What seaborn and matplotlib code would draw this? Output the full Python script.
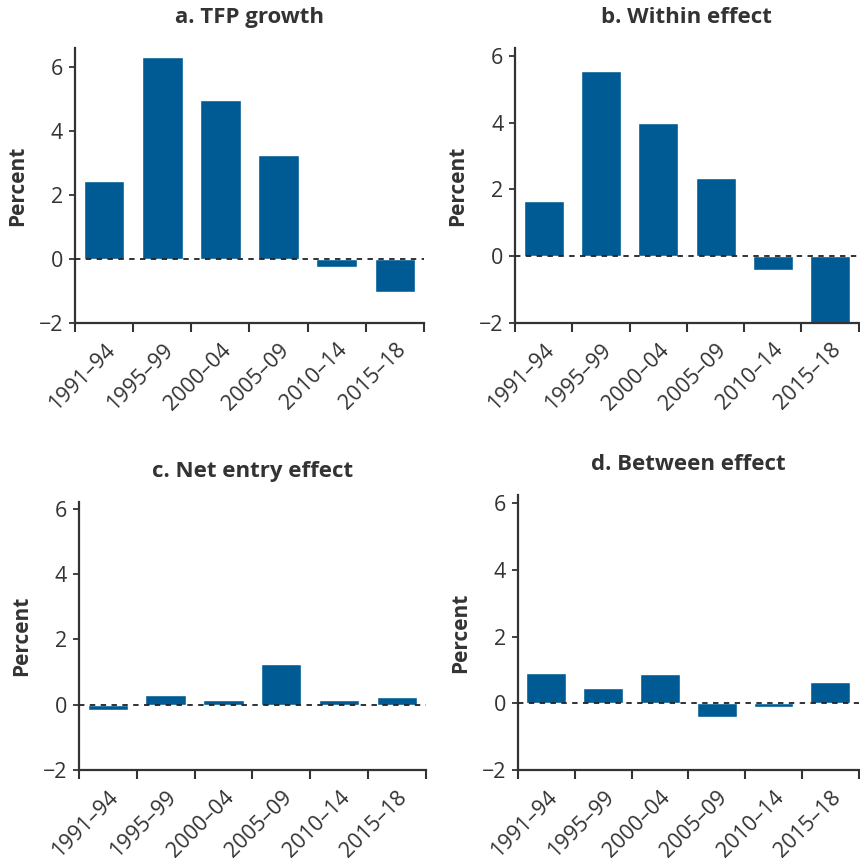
import numpy as np
import pandas as pd
import seaborn as sns
import matplotlib.pyplot as plt
from matplotlib.ticker import FixedLocator

periods = ['1991–94', '1995–99', '2000–04', '2005–09', '2010–14', '2015–18']
tfp_growth = [2.43, 6.30, 4.96, 3.24, -0.25, -1.03]
within_effect = [1.65, 5.55, 4.00, 2.34, -0.41, -2.00]
net_entry_effect = [-0.17, 0.31, 0.15, 1.25, 0.15, 0.25]
between_effect = [0.91, 0.46, 0.88, -0.40, -0.10, 0.64]

titles = ['a. TFP growth', 'b. Within effect', 'c. Net entry effect', 'd. Between effect']
series = [tfp_growth, within_effect, net_entry_effect, between_effect]
ytops = [6.58, 6.24, 6.22, 6.25]

sns.set_style('white')
plt.rcParams['font.family'] = ['Open Sans', 'DejaVu Sans']

bar_color = '#005b94'
ink = '#333333'

fig = plt.figure(figsize=(8.6, 8.67), dpi=100)
# axes boxes in figure fractions [left, bottom, width, height]
boxes = [
    [0.0872, 0.6278, 0.4058, 0.3168],
    [0.5990, 0.6278, 0.3995, 0.3168],
    [0.0919, 0.1119, 0.4031, 0.3094],
    [0.6023, 0.1119, 0.3962, 0.3171],
]

for box, title, vals, ytop in zip(boxes, titles, series, ytops):
    ax = fig.add_axes(box)
    df = pd.DataFrame({'period': periods, 'value': vals})
    sns.barplot(data=df, x='period', y='value', color=bar_color, width=0.7,
                saturation=1, ax=ax, zorder=2)
    ax.axhline(0, color='#222222', lw=1.3, ls=(0, (3, 3)), zorder=3)
    ax.set_xlim(-0.5, 5.5)
    ax.set_ylim(-2, ytop)
    ax.set_yticks([-2, 0, 2, 4, 6])
    ax.set_yticklabels(['−2', '0', '2', '4', '6'])
    # ticks sit between the categories, labels under the bars
    ax.xaxis.set_minor_locator(FixedLocator(np.arange(-0.5, 6, 1)))
    ax.tick_params(axis='x', which='major', bottom=True, length=0, pad=12, labelsize=15.5)
    ax.tick_params(axis='x', which='minor', bottom=True, length=6.5, width=1.5,
                   color=ink, direction='out')
    ax.tick_params(axis='y', left=True, length=4.5, width=1.3, color=ink, direction='out',
                   pad=4, labelsize=15.5)
    ax.tick_params(labelcolor=ink)
    plt.setp(ax.get_xticklabels(), rotation=45, ha='right', rotation_mode='anchor')
    for s in ['top', 'right']:
        ax.spines[s].set_visible(False)
    for s in ['left', 'bottom']:
        ax.spines[s].set_color(ink)
        ax.spines[s].set_linewidth(1.6)
    ax.set_xlabel('')
    ax.set_ylabel('Percent', fontsize=15, fontweight='bold', color=ink, labelpad=8)
    ax.set_title(title, fontsize=16, fontweight='bold', color=ink, pad=18)

fig.savefig('out.png', dpi=100)
